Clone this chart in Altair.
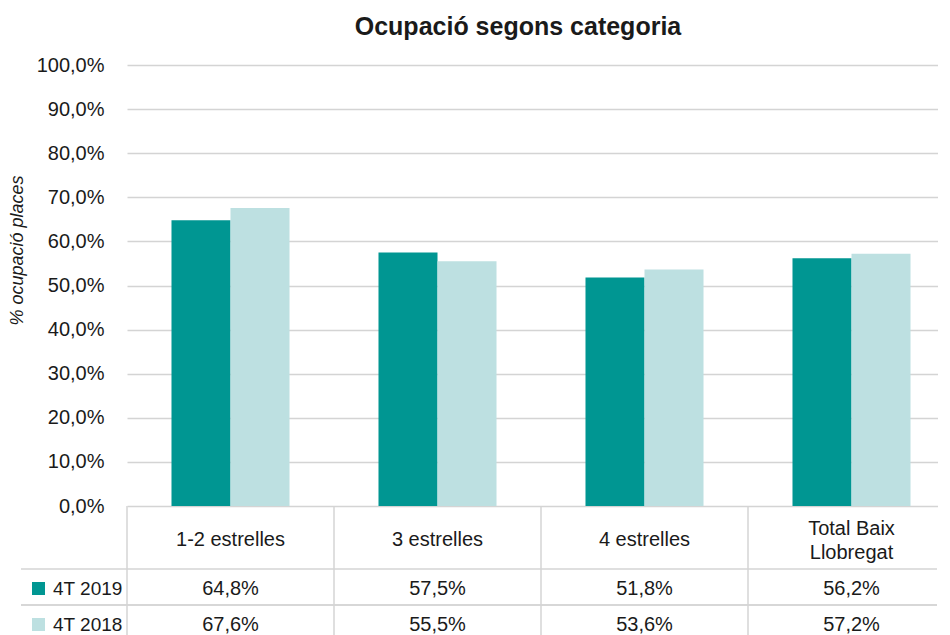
import altair as alt
import pandas as pd

# ---- data ----
categories = ["1-2 estrelles", "3 estrelles", "4 estrelles", "Total Baix Llobregat"]
header_labels = ["1-2 estrelles", "3 estrelles", "4 estrelles", "Total Baix\nLlobregat"]
series = ["4T 2019", "4T 2018"]
values_2019 = [64.8, 57.5, 51.8, 56.2]
values_2018 = [67.6, 55.5, 53.6, 57.2]
y_ticks = [0, 10, 20, 30, 40, 50, 60, 70, 80, 90, 100]
colors = ["#009692", "#bde0e1"]

FONT = "Liberation Sans, Arial, sans-serif"
TXT = "#1a1a1a"
GRID = "#d4d4d4"
FS = 20

rows = []
for s, vals in zip(series, [values_2019, values_2018]):
    for c, v in zip(categories, vals):
        rows.append({"categoria": c, "serie": s, "valor": v})
df = pd.DataFrame(rows)
df_head = pd.DataFrame({"categoria": categories, "etiqueta": header_labels})
df_cats = pd.DataFrame({"categoria": categories})
df_series = pd.DataFrame({"serie": series})
df_blank = pd.DataFrame({"a": [0]})

LEFT_W = 106
MAIN_W = 810      # visible part of the plot (the last band runs past the frame)
BAND_RANGE = 828  # 4 category bands of 207 px
BAR_H = 441
HEAD_H = 63
VAL_H = 72        # two table rows of 36 px

x_band = alt.Scale(domain=categories, paddingInner=0, paddingOuter=0, range=[0, BAND_RANGE])
y_rows = alt.Scale(domain=series, paddingInner=0, paddingOuter=0)

bars = alt.Chart(df).mark_bar().encode(
    x=alt.X("categoria:N", sort=categories, scale=x_band, axis=None),
    xOffset=alt.XOffset("serie:N", sort=series,
                        scale=alt.Scale(domain=series, paddingInner=0, paddingOuter=0.754)),
    y=alt.Y("valor:Q", scale=alt.Scale(domain=[0, 100], nice=False),
            axis=alt.Axis(values=y_ticks, title="% ocupació places",
                          labelExpr="replace(format(datum.value, '.1f'), '.', ',') + '%'",
                          labelFont=FONT, labelFontSize=FS, labelColor=TXT,
                          labelPadding=23, ticks=False, domain=False,
                          grid=True, gridColor=GRID, gridWidth=1.5,
                          titleFont=FONT, titleFontSize=18, titleFontStyle="italic",
                          titleFontWeight="normal", titleColor=TXT,
                          titleX=-101, titleY=185)),
    color=alt.Color("serie:N", sort=series,
                    scale=alt.Scale(domain=series, range=colors),
                    legend=alt.Legend(title=None, orient="none", legendX=-98, legendY=514,
                                      direction="vertical", symbolType="square",
                                      symbolSize=169, symbolStrokeWidth=0,
                                      labelFont=FONT, labelFontSize=19, labelColor=TXT,
                                      labelOffset=5, rowPadding=16, padding=0)),
).properties(
    width=MAIN_W, height=BAR_H,
    title=alt.TitleParams("Ocupació segons categoria", font=FONT, fontSize=25,
                          fontWeight="bold", color=TXT, anchor="middle", frame="group",
                          dx=-14, offset=15),
)

spacer_top = alt.Chart(df_blank).mark_point(opacity=0).properties(width=LEFT_W, height=BAR_H)
spacer_mid = alt.Chart(df_blank).mark_point(opacity=0).properties(width=LEFT_W, height=HEAD_H)

# vertical table lines at the start of each category band
col_lines = alt.Chart(df_cats).mark_rule(color=GRID, strokeWidth=1.5).encode(
    x=alt.X("categoria:N", sort=categories, scale=x_band, axis=None, bandPosition=0),
)
# horizontal table lines at the top and bottom of each series row
row_lines_top = alt.Chart(df_series).mark_rule(color=GRID, strokeWidth=1.5).encode(
    y=alt.Y("serie:N", sort=series, scale=y_rows, axis=None, bandPosition=0),
)
row_lines_bottom = alt.Chart(df_series).mark_rule(color=GRID, strokeWidth=1.5).encode(
    y=alt.Y("serie:N", sort=series, scale=y_rows, axis=None, bandPosition=1),
)

header_base = alt.Chart(df_head).encode(
    x=alt.X("categoria:N", sort=categories, scale=x_band, axis=None),
    text="etiqueta:N",
)
header_single = header_base.transform_filter(
    "indexof(datum.etiqueta, '\\n') < 0"
).mark_text(font=FONT, fontSize=FS, color=TXT, baseline="middle", dy=2)
header_multi = header_base.transform_filter(
    "indexof(datum.etiqueta, '\\n') >= 0"
).mark_text(font=FONT, fontSize=FS, color=TXT, baseline="middle",
            lineBreak="\n", lineHeight=24, dy=-9)
header = alt.layer(col_lines, header_single, header_multi).properties(
    width=MAIN_W, height=HEAD_H)

label_border = alt.Chart(df_series).mark_point(opacity=0).encode(
    y=alt.Y("serie:N", sort=series, scale=y_rows,
            axis=alt.Axis(orient="left", title=None, labels=False, ticks=False,
                          domain=True, domainColor=GRID, domainWidth=1.5, grid=False)),
)
label_cell = alt.layer(row_lines_top, row_lines_bottom, label_border).properties(
    width=LEFT_W, height=VAL_H)

values_text = alt.Chart(df).transform_calculate(
    etiqueta="replace(format(datum.valor, '.1f'), '.', ',') + '%'"
).mark_text(font=FONT, fontSize=FS, color=TXT, baseline="middle", dy=2).encode(
    x=alt.X("categoria:N", sort=categories, scale=x_band, axis=None),
    y=alt.Y("serie:N", sort=series, scale=y_rows, axis=None),
    text="etiqueta:N",
)
values = alt.layer(col_lines, row_lines_top, row_lines_bottom, values_text).properties(
    width=MAIN_W, height=VAL_H)

chart = alt.concat(
    spacer_top, bars, spacer_mid, header, label_cell, values,
    columns=2, spacing=0, bounds="flush",
).resolve_legend(color="independent").properties(
    padding={"left": 0, "top": 7, "right": 0, "bottom": 0},
    background="white",
).configure_view(strokeWidth=0)

chart.save("out.html", embed_options={"renderer": "svg", "actions": False})
